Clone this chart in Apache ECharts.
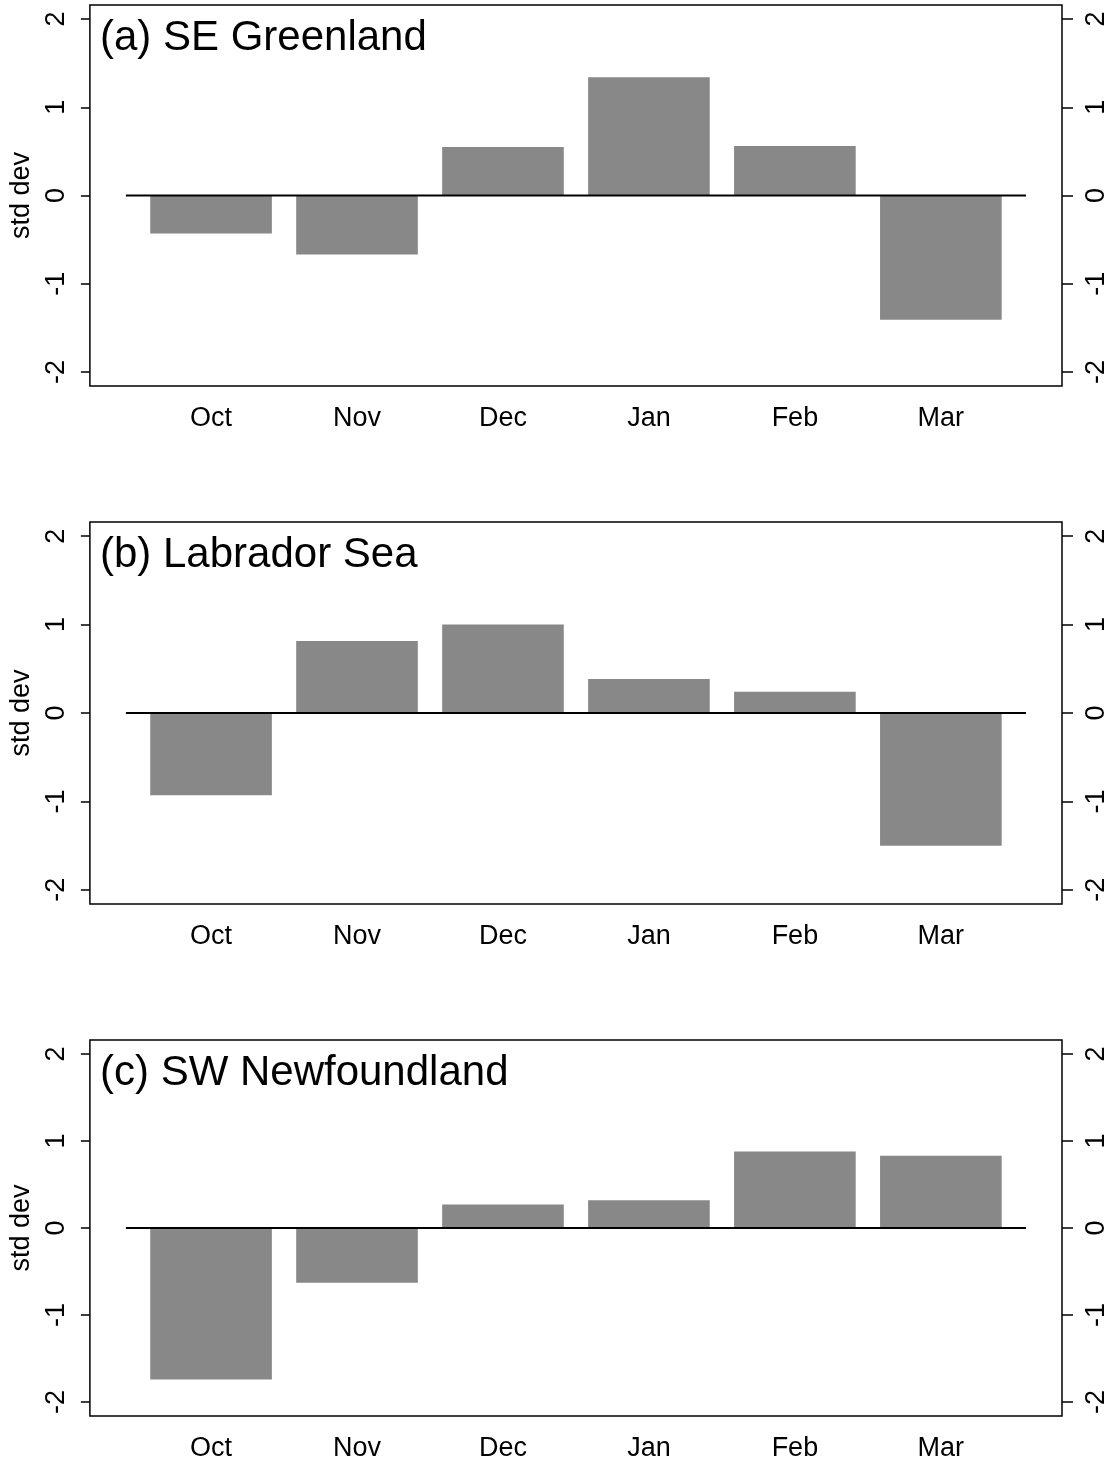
<!DOCTYPE html>
<html>
<head>
<meta charset="utf-8">
<script src="https://cdn.jsdelivr.net/npm/echarts@6/dist/echarts.min.js"></script>
<style>
  html, body { margin: 0; padding: 0; background: #fff; }
  #chart { width: 1116px; height: 1462px; }
</style>
</head>
<body>
<div id="chart"></div>
<script>
// Monthly anomalies (standard deviations) for three regions
const months = ['Oct', 'Nov', 'Dec', 'Jan', 'Feb', 'Mar'];
const seGreenland = [-0.43, -0.67, 0.55, 1.34, 0.56, -1.41];
const labradorSea = [-0.93, 0.815, 1.0, 0.385, 0.24, -1.50];
const swNewfoundland = [-1.74, -0.63, 0.27, 0.32, 0.88, 0.83];
const panelTitles = ['(a) SE Greenland', '(b) Labrador Sea', '(c) SW Newfoundland'];
const yTicks = [-2, -1, 0, 1, 2];

const panels = [seGreenland, labradorSea, swNewfoundland];

// barplot-style layout: unit-width bars separated by 0.2 gaps
const barCenter = i => 0.7 + 1.2 * i;
const centers = months.map((m, i) => barCenter(i));
const X_MIN = -0.296, X_MAX = 7.696;
const Y_MIN = -2.16, Y_MAX = 2.16;

const FONT = '"Liberation Sans", Arial, Helvetica, sans-serif';
const BAR_FILL = '#888888';

const gridBoxes = [
  { top: 5, height: 381 },
  { top: 522, height: 382 },
  { top: 1040, height: 378 }
];

const grid = [], xAxis = [], yAxis = [], series = [], graphic = [];

gridBoxes.forEach((g, k) => {
  grid.push({
    left: 89, width: 973, top: g.top, height: g.height,
    show: true, borderColor: '#000', borderWidth: 1.5,
    backgroundColor: 'transparent'
  });
  xAxis.push({
    type: 'value', gridIndex: k, min: X_MIN, max: X_MAX,
    axisLine: { show: false, onZero: false }, axisTick: { show: false }, splitLine: { show: false },
    axisLabel: {
      customValues: centers,
      formatter: v => months[Math.round((v - 0.7) / 1.2)],
      fontFamily: FONT, fontSize: 27, color: '#000', margin: 19
    }
  });
  const yCommon = {
    type: 'value', gridIndex: k, min: Y_MIN, max: Y_MAX,
    axisLine: { show: false, onZero: false }, splitLine: { show: false },
    axisTick: { show: true, customValues: yTicks, lineStyle: { color: '#000', width: 1.5 } },
    axisLabel: {
      customValues: yTicks, rotate: 90,
      fontFamily: FONT, fontSize: 27, color: '#000'
    }
  };
  yAxis.push(Object.assign({}, yCommon, {
    position: 'left',
    axisTick: Object.assign({}, yCommon.axisTick, { length: 9 }),
    axisLabel: Object.assign({}, yCommon.axisLabel, { margin: 20 }),
    name: 'std dev', nameLocation: 'middle', nameGap: 51,
    nameTextStyle: { fontFamily: FONT, fontSize: 27, color: '#000' }
  }));
  yAxis.push(Object.assign({}, yCommon, {
    position: 'right',
    axisTick: Object.assign({}, yCommon.axisTick, { length: 11 }),
    axisLabel: Object.assign({}, yCommon.axisLabel, { margin: 21 })
  }));

  series.push({
    type: 'custom',
    xAxisIndex: k, yAxisIndex: 2 * k,
    data: panels[k].map((v, i) => [centers[i], v]),
    renderItem: (params, api) => {
      const x = api.value(0), y = api.value(1);
      const p0 = api.coord([x - 0.5, 0]);
      const p1 = api.coord([x + 0.5, y]);
      return {
        type: 'rect',
        shape: {
          x: p0[0], y: Math.min(p0[1], p1[1]),
          width: p1[0] - p0[0], height: Math.abs(p1[1] - p0[1])
        },
        style: { fill: BAR_FILL }
      };
    },
    z: 2
  });
  // zero reference line spanning the bar region
  series.push({
    type: 'line',
    xAxisIndex: k, yAxisIndex: 2 * k,
    data: [[0, 0], [7.4, 0]],
    showSymbol: false, silent: true,
    lineStyle: { color: '#000', width: 2 },
    z: 3
  });

  graphic.push({
    type: 'text', left: 100, top: g.top + 12,
    style: { text: panelTitles[k], fontFamily: FONT, fontSize: 42, fill: '#000' }
  });
});

const chart = echarts.init(document.getElementById('chart'), null, { renderer: 'canvas' });
chart.setOption({
  animation: false,
  backgroundColor: '#fff',
  grid, xAxis, yAxis, series, graphic
});
</script>
</body>
</html>
